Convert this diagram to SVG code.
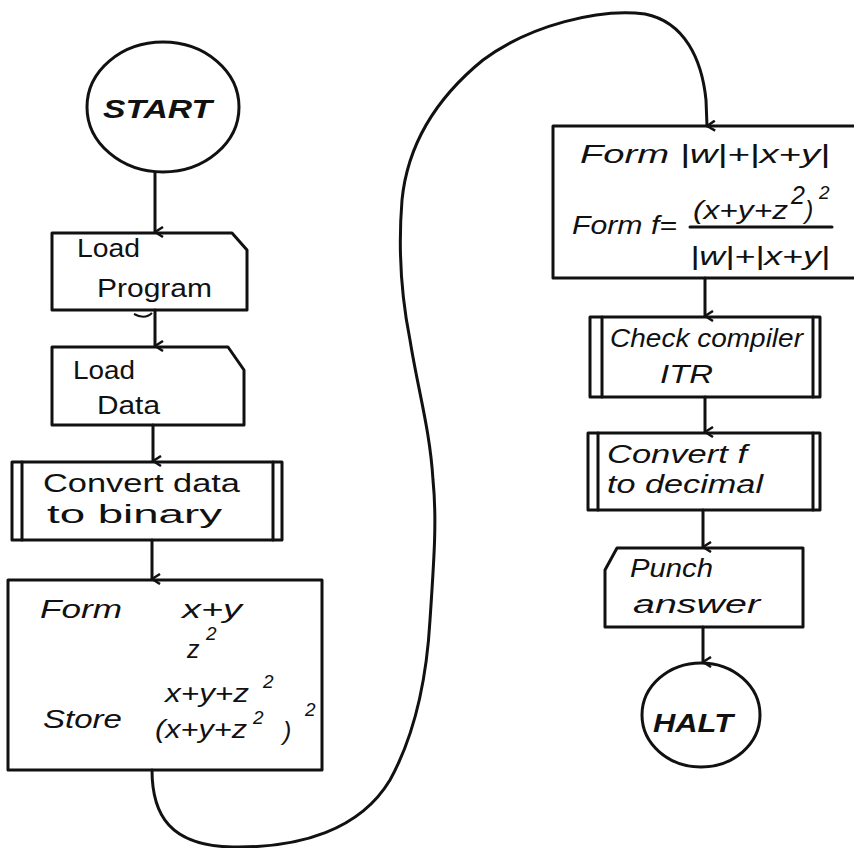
<svg xmlns="http://www.w3.org/2000/svg" width="854" height="848" viewBox="0 0 854 848">
<style>
.shape{fill:none;stroke:#111;stroke-width:3;stroke-linejoin:round;stroke-linecap:round}
.conn{fill:none;stroke:#111;stroke-width:3;stroke-linecap:round}
.t{font-family:"Liberation Sans",Arial,sans-serif;font-size:25px;fill:#111}
.i{font-style:italic}
.b{font-weight:bold}
.sup{font-size:19px}
</style>
<defs>
<marker id="arr" viewBox="0 0 12 12" refX="6" refY="11" markerWidth="12" markerHeight="12" markerUnits="userSpaceOnUse" orient="auto-start-reverse">
<path d="M1,3 L6,11 L11,3" fill="none" stroke="#111" stroke-width="2.5"/>
</marker>
</defs>
<rect width="854" height="848" fill="#fff"/>

<g id="start">
<ellipse class="shape" cx="163" cy="107" rx="76" ry="65"/>
<text class="t i b" x="103" y="118" textLength="109" lengthAdjust="spacingAndGlyphs" font-size="27">START</text>
</g>

<g id="load-program">
<path class="shape" d="M52,233 L232,233 L247,250 L247,310 L52,310 Z"/>
<text class="t" x="77" y="257" textLength="63" lengthAdjust="spacingAndGlyphs">Load</text>
<text class="t" x="97" y="297" textLength="115" lengthAdjust="spacingAndGlyphs">Program</text>
<path d="M134,314 Q145,320 152,313" fill="none" stroke="#111" stroke-width="2"/>
</g>

<g id="load-data">
<path class="shape" d="M52,347 L228,347 L244,370 L244,425 L52,425 Z"/>
<text class="t" x="73" y="379" textLength="62" lengthAdjust="spacingAndGlyphs">Load</text>
<text class="t" x="97" y="414" textLength="63" lengthAdjust="spacingAndGlyphs">Data</text>
</g>

<g id="convert-binary">
<rect class="shape" x="12" y="462" width="270" height="78"/>
<line class="shape" x1="22" y1="462" x2="22" y2="540"/>
<line class="shape" x1="273" y1="462" x2="273" y2="540"/>
<text class="t" x="43" y="492" textLength="197" lengthAdjust="spacingAndGlyphs">Convert  data</text>
<text class="t" x="47" y="523" textLength="175" lengthAdjust="spacingAndGlyphs">to  binary</text>
</g>

<g id="form-store">
<rect class="shape" x="8" y="580" width="314" height="190"/>
<text class="t i" x="40" y="618" textLength="82" lengthAdjust="spacingAndGlyphs">Form</text>
<text class="t i" x="182" y="618" textLength="60" lengthAdjust="spacingAndGlyphs">x+y</text>
<text class="t i" x="187" y="658" font-size="27">z</text>
<text class="t i sup" x="206" y="640">2</text>
<text class="t i" x="165" y="702" textLength="84" lengthAdjust="spacingAndGlyphs">x+y+z</text>
<text class="t i sup" x="263" y="688">2</text>
<text class="t i" x="43" y="728" textLength="79" lengthAdjust="spacingAndGlyphs">Store</text>
<text class="t i" x="155" y="738" textLength="92" lengthAdjust="spacingAndGlyphs" font-size="27">(x+y+z</text>
<text class="t i sup" x="253" y="724">2</text>
<text class="t i" x="283" y="740" font-size="27">)</text>
<text class="t i sup" x="305" y="716">2</text>
</g>

<g id="form-f">
<path class="shape" d="M553,126 L854,126 M553,126 L553,278 L854,278"/>
<text class="t i" x="580" y="163" textLength="250" lengthAdjust="spacingAndGlyphs">Form |w|+|x+y|</text>
<text class="t i" x="572" y="234" textLength="105" lengthAdjust="spacingAndGlyphs">Form f=</text>
<text class="t i" x="693" y="219" textLength="95" lengthAdjust="spacingAndGlyphs">(x+y+z</text>
<text class="t i" x="791" y="204" font-size="14">2</text>
<text class="t i" x="805" y="219">)</text>
<text class="t i sup" x="819" y="199">2</text>
<line class="shape" x1="690" y1="227" x2="832" y2="227"/>
<text class="t i" x="690" y="265" textLength="140" lengthAdjust="spacingAndGlyphs">|w|+|x+y|</text>
</g>

<g id="check-itr">
<rect class="shape" x="590" y="317" width="230" height="80"/>
<line class="shape" x1="602" y1="317" x2="602" y2="397"/>
<line class="shape" x1="813" y1="317" x2="813" y2="397"/>
<text class="t i" x="610" y="347" textLength="193" lengthAdjust="spacingAndGlyphs">Check compiler</text>
<text class="t i" x="660" y="383" textLength="53" lengthAdjust="spacingAndGlyphs" font-size="27">ITR</text>
</g>

<g id="convert-decimal">
<rect class="shape" x="588" y="433" width="232" height="77"/>
<line class="shape" x1="598" y1="433" x2="598" y2="510"/>
<line class="shape" x1="813" y1="433" x2="813" y2="510"/>
<text class="t i" x="607" y="463" textLength="140" lengthAdjust="spacingAndGlyphs">Convert   f</text>
<text class="t i" x="607" y="493" textLength="156" lengthAdjust="spacingAndGlyphs">to decimal</text>
</g>

<g id="punch-answer">
<path class="shape" d="M617,548 L803,548 L803,627 L605,627 L605,570 Z"/>
<text class="t i" x="630" y="577" textLength="83" lengthAdjust="spacingAndGlyphs">Punch</text>
<text class="t i" x="633" y="613" textLength="127" lengthAdjust="spacingAndGlyphs">answer</text>
</g>

<g id="halt">
<ellipse class="shape" cx="701" cy="715" rx="59" ry="52"/>
<text class="t i b" x="653" y="732" textLength="80" lengthAdjust="spacingAndGlyphs" font-size="26">HALT</text>
</g>

<g id="connectors">
<path class="conn" d="M155,172 L155,232" marker-end="url(#arr)"/>
<path class="conn" d="M155,310 L155,346" marker-end="url(#arr)"/>
<path class="conn" d="M153,425 L153,461" marker-end="url(#arr)"/>
<path class="conn" d="M152,540 L152,579" marker-end="url(#arr)"/>
<path class="conn" d="M152,770 C152,815 170,846 233,847 C300,848 360,830 390,780 C412,740 426,690 430,620 C434,560 437,520 433,480 C430,430 418,390 410,340 C402,300 398,250 402,200 C408,140 440,95 483,60 C530,25 600,8 645,14 C685,22 702,60 706,100 L707,126" marker-end="url(#arr)"/>
<path class="conn" d="M705,278 L705,316" marker-end="url(#arr)"/>
<path class="conn" d="M705,397 L705,432" marker-end="url(#arr)"/>
<path class="conn" d="M703,510 L703,547" marker-end="url(#arr)"/>
<path class="conn" d="M703,627 L703,662" marker-end="url(#arr)"/>
</g>
</svg>
